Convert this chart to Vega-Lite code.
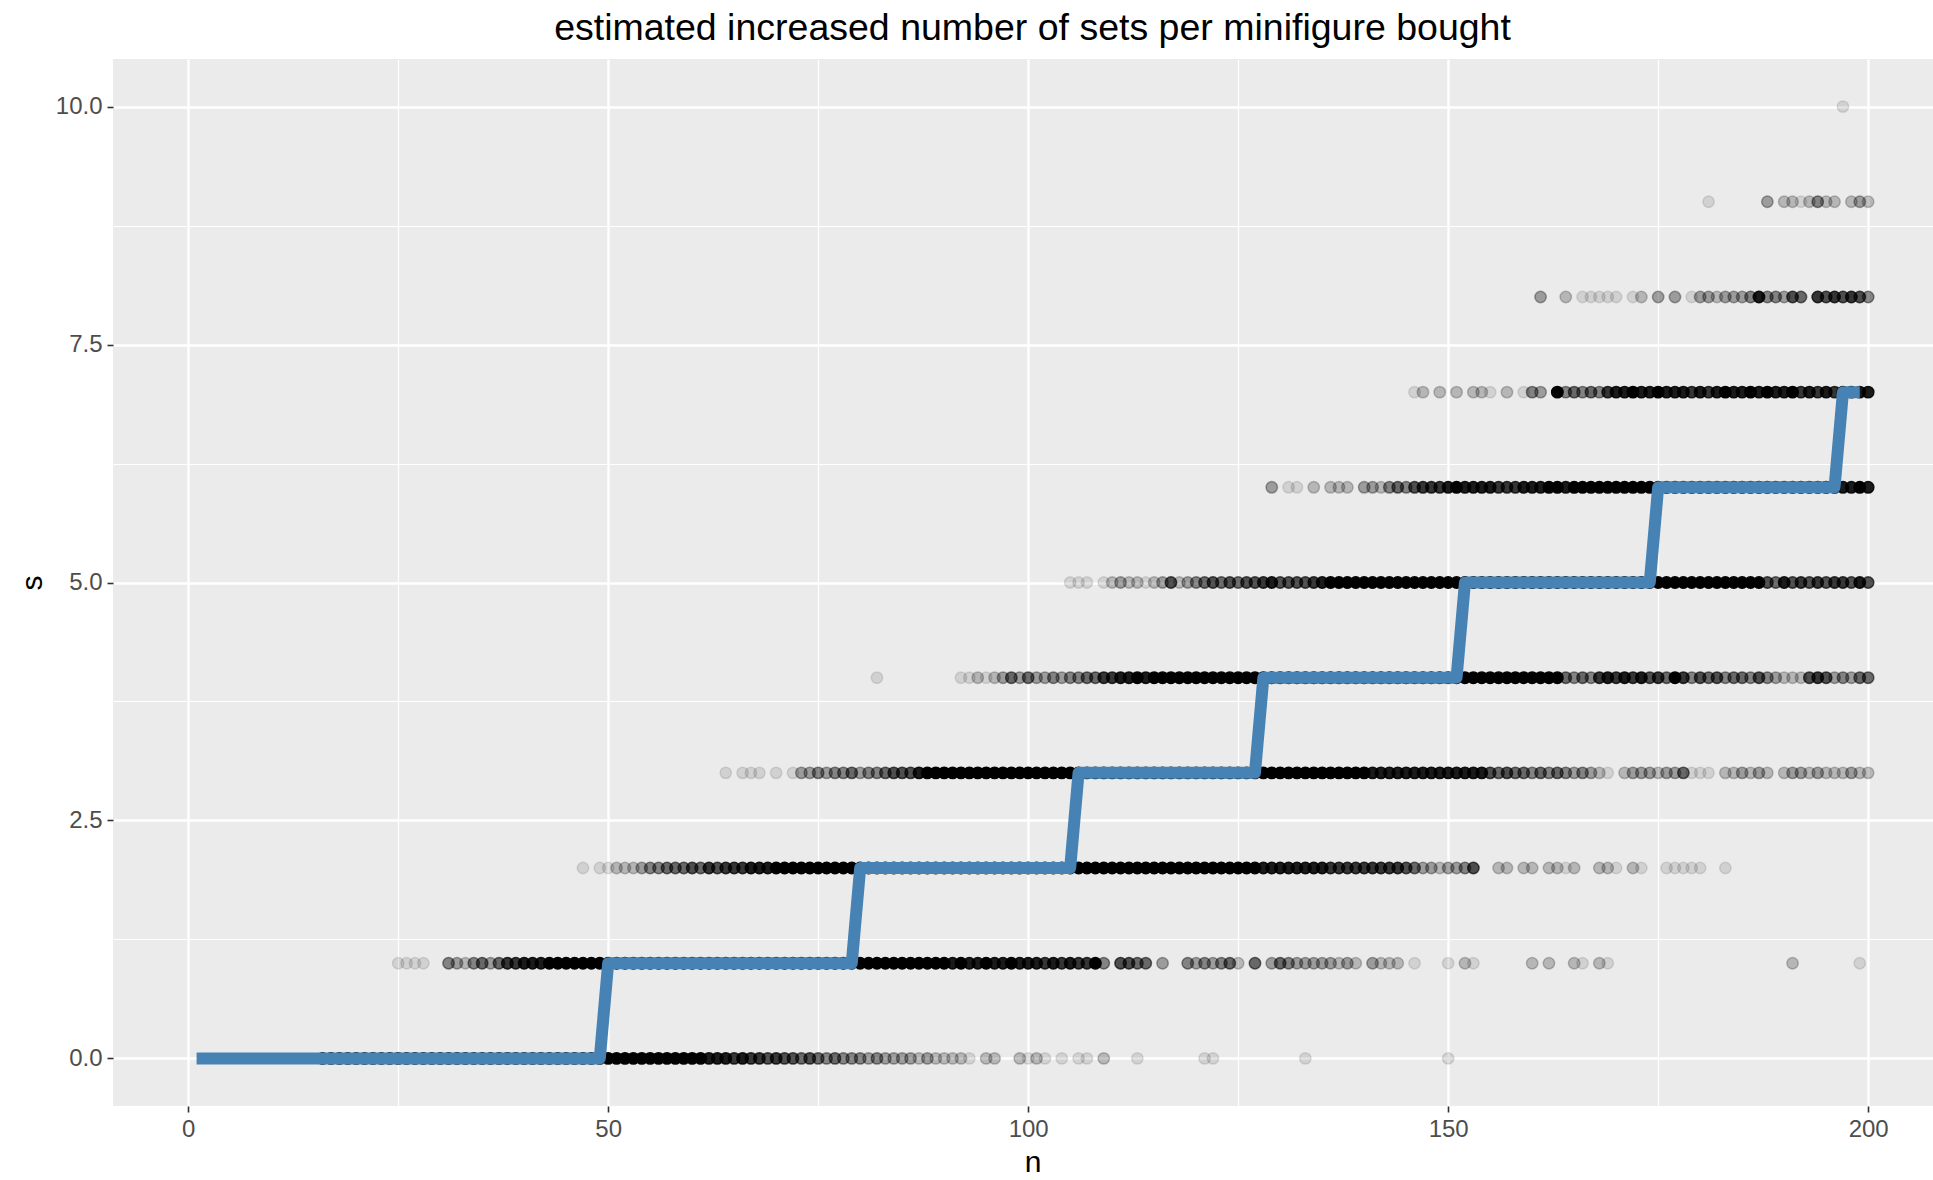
{"$schema":"https://vega.github.io/schema/vega-lite/v6.json","width":1820,"height":1047,"autosize":{"type":"none"},"padding":{"left":113,"top":59,"right":0,"bottom":74},"background":"white",
"config":{"view":{"fill":"#EBEBEB","stroke":null},"font":"Liberation Sans"},
"title":{"text":"estimated increased number of sets per minifigure bought","fontSize":37.5,"font":"Liberation Sans","fontWeight":"normal","color":"black","anchor":"middle","offset":12,"dx":9.5},
"datasets":{
"med":[{"n":1,"s":0},{"n":49,"s":0},{"n":50,"s":1},{"n":79,"s":1},{"n":80,"s":2},{"n":105,"s":2},{"n":106,"s":3},{"n":127,"s":3},{"n":128,"s":4},{"n":151,"s":4},{"n":152,"s":5},{"n":174,"s":5},{"n":175,"s":6},{"n":196,"s":6},{"n":197,"s":7},{"n":199,"s":7}],
"pts":[
{"n":16,"s":0,"k":10},{"n":17,"s":0,"k":10},{"n":18,"s":0,"k":10},{"n":19,"s":0,"k":10},{"n":20,"s":0,"k":10},{"n":21,"s":0,"k":10},{"n":22,"s":0,"k":10},{"n":23,"s":0,"k":10},{"n":24,"s":0,"k":10},{"n":25,"s":0,"k":10},{"n":26,"s":0,"k":10},{"n":27,"s":0,"k":10},{"n":28,"s":0,"k":10},{"n":29,"s":0,"k":10},{"n":30,"s":0,"k":10},{"n":31,"s":0,"k":10},{"n":32,"s":0,"k":10},{"n":33,"s":0,"k":10},{"n":34,"s":0,"k":10},{"n":35,"s":0,"k":10},{"n":36,"s":0,"k":10},{"n":37,"s":0,"k":10},{"n":38,"s":0,"k":10},{"n":39,"s":0,"k":10},{"n":40,"s":0,"k":10},{"n":41,"s":0,"k":10},{"n":42,"s":0,"k":10},{"n":43,"s":0,"k":10},{"n":44,"s":0,"k":10},{"n":45,"s":0,"k":10},{"n":46,"s":0,"k":10},{"n":47,"s":0,"k":10},{"n":48,"s":0,"k":10},{"n":49,"s":0,"k":10},{"n":50,"s":0,"k":10},{"n":51,"s":0,"k":10},{"n":52,"s":0,"k":10},{"n":53,"s":0,"k":10},{"n":54,"s":0,"k":10},{"n":55,"s":0,"k":10},{"n":56,"s":0,"k":10},{"n":57,"s":0,"k":10},{"n":58,"s":0,"k":10},{"n":59,"s":0,"k":10},{"n":60,"s":0,"k":10},{"n":61,"s":0,"k":10},
{"n":62,"s":0,"k":8},{"n":63,"s":0,"k":8},{"n":64,"s":0,"k":8},{"n":65,"s":0,"k":7},{"n":66,"s":0,"k":8},{"n":67,"s":0,"k":7},{"n":68,"s":0,"k":7},{"n":69,"s":0,"k":6},{"n":70,"s":0,"k":7},{"n":71,"s":0,"k":6},{"n":72,"s":0,"k":6},{"n":73,"s":0,"k":5},{"n":74,"s":0,"k":6},{"n":75,"s":0,"k":5},{"n":76,"s":0,"k":4},{"n":77,"s":0,"k":5},{"n":78,"s":0,"k":4},{"n":79,"s":0,"k":4},{"n":80,"s":0,"k":4},{"n":81,"s":0,"k":3},{"n":82,"s":0,"k":4},{"n":83,"s":0,"k":3},{"n":84,"s":0,"k":3},{"n":85,"s":0,"k":3},{"n":86,"s":0,"k":3},{"n":87,"s":0,"k":2},{"n":88,"s":0,"k":3},{"n":89,"s":0,"k":2},{"n":90,"s":0,"k":2},{"n":91,"s":0,"k":2},{"n":92,"s":0,"k":2},{"n":93,"s":0,"k":1},{"n":95,"s":0,"k":2},{"n":96,"s":0,"k":2},{"n":99,"s":0,"k":2},{"n":100,"s":0,"k":1},{"n":101,"s":0,"k":2},{"n":102,"s":0,"k":1},{"n":104,"s":0,"k":1},{"n":106,"s":0,"k":1},{"n":107,"s":0,"k":1},{"n":109,"s":0,"k":2},{"n":113,"s":0,"k":1},{"n":121,"s":0,"k":1},{"n":122,"s":0,"k":1},{"n":133,"s":0,"k":1},{"n":150,"s":0,"k":1},
{"n":25,"s":1,"k":1},{"n":26,"s":1,"k":1},{"n":27,"s":1,"k":1},{"n":28,"s":1,"k":1},{"n":31,"s":1,"k":4},{"n":32,"s":1,"k":3},{"n":33,"s":1,"k":2},{"n":34,"s":1,"k":4},{"n":35,"s":1,"k":5},{"n":36,"s":1,"k":3},{"n":37,"s":1,"k":5},{"n":38,"s":1,"k":7},{"n":39,"s":1,"k":7},{"n":40,"s":1,"k":8},{"n":41,"s":1,"k":8},{"n":42,"s":1,"k":8},
{"n":43,"s":1,"k":10},{"n":44,"s":1,"k":10},{"n":45,"s":1,"k":10},{"n":46,"s":1,"k":10},{"n":47,"s":1,"k":10},{"n":48,"s":1,"k":10},{"n":49,"s":1,"k":10},{"n":50,"s":1,"k":10},{"n":51,"s":1,"k":10},{"n":52,"s":1,"k":10},{"n":53,"s":1,"k":10},{"n":54,"s":1,"k":10},{"n":55,"s":1,"k":10},{"n":56,"s":1,"k":10},{"n":57,"s":1,"k":10},{"n":58,"s":1,"k":10},{"n":59,"s":1,"k":10},{"n":60,"s":1,"k":10},{"n":61,"s":1,"k":10},{"n":62,"s":1,"k":10},{"n":63,"s":1,"k":10},{"n":64,"s":1,"k":10},{"n":65,"s":1,"k":10},{"n":66,"s":1,"k":10},{"n":67,"s":1,"k":10},{"n":68,"s":1,"k":10},{"n":69,"s":1,"k":10},{"n":70,"s":1,"k":10},{"n":71,"s":1,"k":10},{"n":72,"s":1,"k":10},{"n":73,"s":1,"k":10},{"n":74,"s":1,"k":10},{"n":75,"s":1,"k":10},{"n":76,"s":1,"k":10},{"n":77,"s":1,"k":10},{"n":78,"s":1,"k":10},{"n":79,"s":1,"k":10},{"n":80,"s":1,"k":10},{"n":81,"s":1,"k":10},{"n":82,"s":1,"k":10},{"n":83,"s":1,"k":10},{"n":84,"s":1,"k":10},{"n":85,"s":1,"k":10},{"n":86,"s":1,"k":10},{"n":87,"s":1,"k":10},{"n":88,"s":1,"k":10},{"n":89,"s":1,"k":10},{"n":90,"s":1,"k":10},
{"n":91,"s":1,"k":8},{"n":92,"s":1,"k":9},{"n":93,"s":1,"k":8},{"n":94,"s":1,"k":8},{"n":95,"s":1,"k":9},{"n":96,"s":1,"k":8},{"n":97,"s":1,"k":8},{"n":98,"s":1,"k":9},{"n":99,"s":1,"k":8},{"n":100,"s":1,"k":8},{"n":101,"s":1,"k":8},{"n":102,"s":1,"k":7},{"n":103,"s":1,"k":8},{"n":104,"s":1,"k":7},{"n":105,"s":1,"k":8},{"n":106,"s":1,"k":7},{"n":107,"s":1,"k":7},{"n":108,"s":1,"k":9},{"n":109,"s":1,"k":4},{"n":111,"s":1,"k":6},{"n":112,"s":1,"k":6},{"n":113,"s":1,"k":5},{"n":114,"s":1,"k":5},{"n":116,"s":1,"k":3},{"n":119,"s":1,"k":4},{"n":120,"s":1,"k":3},{"n":121,"s":1,"k":4},{"n":122,"s":1,"k":3},{"n":123,"s":1,"k":4},{"n":124,"s":1,"k":5},{"n":125,"s":1,"k":2},{"n":127,"s":1,"k":5},{"n":129,"s":1,"k":3},{"n":130,"s":1,"k":5},{"n":131,"s":1,"k":4},{"n":132,"s":1,"k":3},{"n":133,"s":1,"k":3},{"n":134,"s":1,"k":3},{"n":135,"s":1,"k":3},{"n":136,"s":1,"k":3},{"n":137,"s":1,"k":2},{"n":138,"s":1,"k":3},{"n":139,"s":1,"k":2},{"n":141,"s":1,"k":3},{"n":142,"s":1,"k":2},{"n":143,"s":1,"k":2},{"n":144,"s":1,"k":2},{"n":146,"s":1,"k":1},{"n":150,"s":1,"k":1},{"n":152,"s":1,"k":2},{"n":153,"s":1,"k":1},{"n":160,"s":1,"k":2},{"n":162,"s":1,"k":2},{"n":165,"s":1,"k":2},{"n":166,"s":1,"k":1},{"n":168,"s":1,"k":2},{"n":169,"s":1,"k":1},{"n":191,"s":1,"k":2},{"n":199,"s":1,"k":1},
{"n":47,"s":2,"k":1},{"n":49,"s":2,"k":1},{"n":50,"s":2,"k":1},{"n":51,"s":2,"k":2},{"n":52,"s":2,"k":2},{"n":53,"s":2,"k":2},{"n":54,"s":2,"k":3},{"n":55,"s":2,"k":4},{"n":56,"s":2,"k":4},{"n":57,"s":2,"k":5},{"n":58,"s":2,"k":5},{"n":59,"s":2,"k":5},{"n":60,"s":2,"k":6},{"n":61,"s":2,"k":5},{"n":62,"s":2,"k":7},{"n":63,"s":2,"k":6},{"n":64,"s":2,"k":7},{"n":65,"s":2,"k":7},{"n":66,"s":2,"k":7},{"n":67,"s":2,"k":8},{"n":68,"s":2,"k":8},{"n":69,"s":2,"k":8},
{"n":70,"s":2,"k":10},{"n":71,"s":2,"k":10},{"n":72,"s":2,"k":10},{"n":73,"s":2,"k":10},{"n":74,"s":2,"k":10},{"n":75,"s":2,"k":10},{"n":76,"s":2,"k":10},{"n":77,"s":2,"k":10},{"n":78,"s":2,"k":10},{"n":79,"s":2,"k":10},{"n":80,"s":2,"k":10},{"n":81,"s":2,"k":10},{"n":82,"s":2,"k":10},{"n":83,"s":2,"k":10},{"n":84,"s":2,"k":10},{"n":85,"s":2,"k":10},{"n":86,"s":2,"k":10},{"n":87,"s":2,"k":10},{"n":88,"s":2,"k":10},{"n":89,"s":2,"k":10},{"n":90,"s":2,"k":10},{"n":91,"s":2,"k":10},{"n":92,"s":2,"k":10},{"n":93,"s":2,"k":10},{"n":94,"s":2,"k":10},{"n":95,"s":2,"k":10},{"n":96,"s":2,"k":10},{"n":97,"s":2,"k":10},{"n":98,"s":2,"k":10},{"n":99,"s":2,"k":10},{"n":100,"s":2,"k":10},{"n":101,"s":2,"k":10},{"n":102,"s":2,"k":10},{"n":103,"s":2,"k":10},{"n":104,"s":2,"k":10},{"n":105,"s":2,"k":10},{"n":106,"s":2,"k":10},{"n":107,"s":2,"k":10},{"n":108,"s":2,"k":10},{"n":109,"s":2,"k":10},{"n":110,"s":2,"k":10},{"n":111,"s":2,"k":10},{"n":112,"s":2,"k":10},{"n":113,"s":2,"k":10},{"n":114,"s":2,"k":10},{"n":115,"s":2,"k":10},{"n":116,"s":2,"k":10},{"n":117,"s":2,"k":10},{"n":118,"s":2,"k":10},{"n":119,"s":2,"k":10},{"n":120,"s":2,"k":10},
{"n":121,"s":2,"k":9},{"n":122,"s":2,"k":9},{"n":123,"s":2,"k":9},{"n":124,"s":2,"k":9},{"n":125,"s":2,"k":9},{"n":126,"s":2,"k":9},{"n":127,"s":2,"k":9},{"n":128,"s":2,"k":8},{"n":129,"s":2,"k":8},{"n":130,"s":2,"k":8},{"n":131,"s":2,"k":8},{"n":132,"s":2,"k":8},{"n":133,"s":2,"k":8},{"n":134,"s":2,"k":8},{"n":135,"s":2,"k":8},{"n":136,"s":2,"k":7},{"n":137,"s":2,"k":7},{"n":138,"s":2,"k":7},{"n":139,"s":2,"k":7},{"n":140,"s":2,"k":7},{"n":141,"s":2,"k":7},{"n":142,"s":2,"k":7},{"n":143,"s":2,"k":7},{"n":144,"s":2,"k":7},{"n":145,"s":2,"k":6},{"n":146,"s":2,"k":5},{"n":147,"s":2,"k":3},{"n":148,"s":2,"k":3},{"n":149,"s":2,"k":2},{"n":150,"s":2,"k":3},{"n":151,"s":2,"k":3},{"n":152,"s":2,"k":4},{"n":153,"s":2,"k":6},{"n":156,"s":2,"k":2},{"n":157,"s":2,"k":2},{"n":159,"s":2,"k":2},{"n":160,"s":2,"k":2},{"n":162,"s":2,"k":2},{"n":163,"s":2,"k":2},{"n":164,"s":2,"k":1},{"n":165,"s":2,"k":2},{"n":168,"s":2,"k":2},{"n":169,"s":2,"k":2},{"n":170,"s":2,"k":1},{"n":172,"s":2,"k":2},{"n":173,"s":2,"k":1},{"n":176,"s":2,"k":1},{"n":177,"s":2,"k":1},{"n":178,"s":2,"k":1},{"n":179,"s":2,"k":1},{"n":180,"s":2,"k":1},{"n":183,"s":2,"k":1},
{"n":64,"s":3,"k":1},{"n":66,"s":3,"k":1},{"n":67,"s":3,"k":1},{"n":68,"s":3,"k":1},{"n":70,"s":3,"k":1},{"n":72,"s":3,"k":1},{"n":73,"s":3,"k":3},{"n":74,"s":3,"k":3},{"n":75,"s":3,"k":4},{"n":76,"s":3,"k":3},{"n":77,"s":3,"k":4},{"n":78,"s":3,"k":4},{"n":79,"s":3,"k":5},{"n":80,"s":3,"k":3},{"n":81,"s":3,"k":4},{"n":82,"s":3,"k":4},{"n":83,"s":3,"k":5},{"n":84,"s":3,"k":6},{"n":85,"s":3,"k":6},{"n":86,"s":3,"k":6},{"n":87,"s":3,"k":8},
{"n":88,"s":3,"k":10},{"n":89,"s":3,"k":10},{"n":90,"s":3,"k":10},{"n":91,"s":3,"k":10},{"n":92,"s":3,"k":10},{"n":93,"s":3,"k":10},{"n":94,"s":3,"k":10},{"n":95,"s":3,"k":10},{"n":96,"s":3,"k":10},{"n":97,"s":3,"k":10},{"n":98,"s":3,"k":10},{"n":99,"s":3,"k":10},{"n":100,"s":3,"k":10},{"n":101,"s":3,"k":10},{"n":102,"s":3,"k":10},{"n":103,"s":3,"k":10},{"n":104,"s":3,"k":10},{"n":105,"s":3,"k":10},{"n":106,"s":3,"k":10},{"n":107,"s":3,"k":10},{"n":108,"s":3,"k":10},{"n":109,"s":3,"k":10},{"n":110,"s":3,"k":10},{"n":111,"s":3,"k":10},{"n":112,"s":3,"k":10},{"n":113,"s":3,"k":10},{"n":114,"s":3,"k":10},{"n":115,"s":3,"k":10},{"n":116,"s":3,"k":10},{"n":117,"s":3,"k":10},{"n":118,"s":3,"k":10},{"n":119,"s":3,"k":10},{"n":120,"s":3,"k":10},{"n":121,"s":3,"k":10},{"n":122,"s":3,"k":10},{"n":123,"s":3,"k":10},{"n":124,"s":3,"k":10},{"n":125,"s":3,"k":10},{"n":126,"s":3,"k":10},{"n":127,"s":3,"k":10},{"n":128,"s":3,"k":10},{"n":129,"s":3,"k":10},{"n":130,"s":3,"k":10},{"n":131,"s":3,"k":10},
{"n":132,"s":3,"k":9},{"n":133,"s":3,"k":9},{"n":134,"s":3,"k":9},{"n":135,"s":3,"k":9},{"n":136,"s":3,"k":9},{"n":137,"s":3,"k":9},{"n":138,"s":3,"k":9},{"n":139,"s":3,"k":9},{"n":140,"s":3,"k":9},{"n":141,"s":3,"k":8},{"n":142,"s":3,"k":8},{"n":143,"s":3,"k":8},{"n":144,"s":3,"k":8},{"n":145,"s":3,"k":8},{"n":146,"s":3,"k":8},{"n":147,"s":3,"k":8},{"n":148,"s":3,"k":8},{"n":149,"s":3,"k":8},{"n":150,"s":3,"k":8},{"n":151,"s":3,"k":8},{"n":152,"s":3,"k":8},{"n":153,"s":3,"k":8},{"n":154,"s":3,"k":8},{"n":155,"s":3,"k":6},{"n":156,"s":3,"k":5},{"n":157,"s":3,"k":6},{"n":158,"s":3,"k":5},{"n":159,"s":3,"k":5},{"n":160,"s":3,"k":4},{"n":161,"s":3,"k":5},{"n":162,"s":3,"k":4},{"n":163,"s":3,"k":5},{"n":164,"s":3,"k":4},{"n":165,"s":3,"k":3},{"n":166,"s":3,"k":4},{"n":167,"s":3,"k":3},{"n":168,"s":3,"k":2},{"n":169,"s":3,"k":1},{"n":171,"s":3,"k":2},{"n":172,"s":3,"k":3},{"n":173,"s":3,"k":3},{"n":174,"s":3,"k":3},{"n":175,"s":3,"k":2},{"n":176,"s":3,"k":3},{"n":177,"s":3,"k":3},{"n":178,"s":3,"k":5},{"n":179,"s":3,"k":1},{"n":180,"s":3,"k":1},{"n":181,"s":3,"k":1},{"n":183,"s":3,"k":2},{"n":184,"s":3,"k":2},{"n":185,"s":3,"k":3},{"n":186,"s":3,"k":2},{"n":187,"s":3,"k":3},{"n":188,"s":3,"k":2},{"n":190,"s":3,"k":2},{"n":191,"s":3,"k":3},{"n":192,"s":3,"k":3},{"n":193,"s":3,"k":2},{"n":194,"s":3,"k":3},{"n":195,"s":3,"k":2},{"n":196,"s":3,"k":2},{"n":197,"s":3,"k":2},{"n":198,"s":3,"k":3},{"n":199,"s":3,"k":2},{"n":200,"s":3,"k":2},
{"n":82,"s":4,"k":1},{"n":92,"s":4,"k":1},{"n":93,"s":4,"k":1},{"n":94,"s":4,"k":2},{"n":95,"s":4,"k":1},{"n":96,"s":4,"k":2},{"n":97,"s":4,"k":3},{"n":98,"s":4,"k":5},{"n":99,"s":4,"k":3},{"n":100,"s":4,"k":5},{"n":101,"s":4,"k":3},{"n":102,"s":4,"k":3},{"n":103,"s":4,"k":4},{"n":104,"s":4,"k":3},{"n":105,"s":4,"k":4},{"n":106,"s":4,"k":4},{"n":107,"s":4,"k":5},{"n":108,"s":4,"k":5},{"n":109,"s":4,"k":7},{"n":110,"s":4,"k":7},{"n":111,"s":4,"k":8},{"n":112,"s":4,"k":8},{"n":113,"s":4,"k":9},{"n":114,"s":4,"k":8},{"n":115,"s":4,"k":9},
{"n":116,"s":4,"k":10},{"n":117,"s":4,"k":10},{"n":118,"s":4,"k":10},{"n":119,"s":4,"k":10},{"n":120,"s":4,"k":10},{"n":121,"s":4,"k":10},{"n":122,"s":4,"k":10},{"n":123,"s":4,"k":10},{"n":124,"s":4,"k":10},{"n":125,"s":4,"k":10},{"n":126,"s":4,"k":10},{"n":127,"s":4,"k":10},{"n":128,"s":4,"k":10},{"n":129,"s":4,"k":10},{"n":130,"s":4,"k":10},{"n":131,"s":4,"k":10},{"n":132,"s":4,"k":10},{"n":133,"s":4,"k":10},{"n":134,"s":4,"k":10},{"n":135,"s":4,"k":10},{"n":136,"s":4,"k":10},{"n":137,"s":4,"k":10},{"n":138,"s":4,"k":10},{"n":139,"s":4,"k":10},{"n":140,"s":4,"k":10},{"n":141,"s":4,"k":10},{"n":142,"s":4,"k":10},{"n":143,"s":4,"k":10},{"n":144,"s":4,"k":10},{"n":145,"s":4,"k":10},{"n":146,"s":4,"k":10},{"n":147,"s":4,"k":10},{"n":148,"s":4,"k":10},{"n":149,"s":4,"k":10},{"n":150,"s":4,"k":10},{"n":151,"s":4,"k":10},{"n":152,"s":4,"k":10},{"n":153,"s":4,"k":10},{"n":154,"s":4,"k":10},{"n":155,"s":4,"k":10},{"n":156,"s":4,"k":10},{"n":157,"s":4,"k":10},{"n":158,"s":4,"k":10},{"n":159,"s":4,"k":10},{"n":160,"s":4,"k":10},{"n":161,"s":4,"k":10},{"n":162,"s":4,"k":10},{"n":163,"s":4,"k":10},
{"n":164,"s":4,"k":5},{"n":165,"s":4,"k":4},{"n":166,"s":4,"k":5},{"n":167,"s":4,"k":4},{"n":168,"s":4,"k":7},{"n":169,"s":4,"k":8},{"n":170,"s":4,"k":7},{"n":171,"s":4,"k":8},{"n":172,"s":4,"k":7},{"n":173,"s":4,"k":8},{"n":174,"s":4,"k":6},{"n":175,"s":4,"k":7},{"n":176,"s":4,"k":5},{"n":177,"s":4,"k":9},{"n":178,"s":4,"k":7},{"n":179,"s":4,"k":4},{"n":180,"s":4,"k":6},{"n":181,"s":4,"k":5},{"n":182,"s":4,"k":6},{"n":183,"s":4,"k":4},{"n":184,"s":4,"k":5},{"n":185,"s":4,"k":5},{"n":186,"s":4,"k":4},{"n":187,"s":4,"k":6},{"n":188,"s":4,"k":4},{"n":189,"s":4,"k":3},{"n":190,"s":4,"k":2},{"n":191,"s":4,"k":2},{"n":192,"s":4,"k":2},{"n":193,"s":4,"k":6},{"n":194,"s":4,"k":7},{"n":195,"s":4,"k":6},{"n":196,"s":4,"k":3},{"n":197,"s":4,"k":4},{"n":198,"s":4,"k":3},{"n":199,"s":4,"k":5},{"n":200,"s":4,"k":5},
{"n":105,"s":5,"k":1},{"n":106,"s":5,"k":1},{"n":107,"s":5,"k":1},{"n":109,"s":5,"k":1},{"n":110,"s":5,"k":2},{"n":111,"s":5,"k":3},{"n":112,"s":5,"k":2},{"n":113,"s":5,"k":2},{"n":114,"s":5,"k":1},{"n":115,"s":5,"k":2},{"n":116,"s":5,"k":3},{"n":117,"s":5,"k":6},{"n":118,"s":5,"k":2},{"n":119,"s":5,"k":3},{"n":120,"s":5,"k":4},{"n":121,"s":5,"k":5},{"n":122,"s":5,"k":6},{"n":123,"s":5,"k":5},{"n":124,"s":5,"k":6},{"n":125,"s":5,"k":5},{"n":126,"s":5,"k":6},{"n":127,"s":5,"k":6},{"n":128,"s":5,"k":7},{"n":129,"s":5,"k":8},{"n":130,"s":5,"k":6},{"n":131,"s":5,"k":6},{"n":132,"s":5,"k":6},{"n":133,"s":5,"k":6},{"n":134,"s":5,"k":7},{"n":135,"s":5,"k":8},{"n":136,"s":5,"k":9},
{"n":137,"s":5,"k":10},{"n":138,"s":5,"k":10},{"n":139,"s":5,"k":10},{"n":140,"s":5,"k":10},{"n":141,"s":5,"k":10},{"n":142,"s":5,"k":10},{"n":143,"s":5,"k":10},{"n":144,"s":5,"k":10},{"n":145,"s":5,"k":10},{"n":146,"s":5,"k":10},{"n":147,"s":5,"k":10},{"n":148,"s":5,"k":10},{"n":149,"s":5,"k":10},{"n":150,"s":5,"k":10},{"n":151,"s":5,"k":10},{"n":152,"s":5,"k":10},{"n":153,"s":5,"k":10},{"n":154,"s":5,"k":10},{"n":155,"s":5,"k":10},{"n":156,"s":5,"k":10},{"n":157,"s":5,"k":10},{"n":158,"s":5,"k":10},{"n":159,"s":5,"k":10},{"n":160,"s":5,"k":10},{"n":161,"s":5,"k":10},{"n":162,"s":5,"k":10},{"n":163,"s":5,"k":10},{"n":164,"s":5,"k":10},{"n":165,"s":5,"k":10},{"n":166,"s":5,"k":10},{"n":167,"s":5,"k":10},{"n":168,"s":5,"k":10},{"n":169,"s":5,"k":10},{"n":170,"s":5,"k":10},{"n":171,"s":5,"k":10},{"n":172,"s":5,"k":10},{"n":173,"s":5,"k":10},{"n":174,"s":5,"k":10},{"n":175,"s":5,"k":10},{"n":176,"s":5,"k":10},{"n":177,"s":5,"k":10},{"n":178,"s":5,"k":10},{"n":179,"s":5,"k":10},{"n":180,"s":5,"k":10},{"n":181,"s":5,"k":10},{"n":182,"s":5,"k":10},{"n":183,"s":5,"k":10},{"n":184,"s":5,"k":10},{"n":185,"s":5,"k":10},{"n":186,"s":5,"k":10},{"n":187,"s":5,"k":10},
{"n":188,"s":5,"k":6},{"n":189,"s":5,"k":5},{"n":190,"s":5,"k":8},{"n":191,"s":5,"k":6},{"n":192,"s":5,"k":7},{"n":193,"s":5,"k":6},{"n":194,"s":5,"k":7},{"n":195,"s":5,"k":6},{"n":196,"s":5,"k":7},{"n":197,"s":5,"k":7},{"n":198,"s":5,"k":6},{"n":199,"s":5,"k":8},{"n":200,"s":5,"k":6},
{"n":129,"s":6,"k":3},{"n":131,"s":6,"k":1},{"n":132,"s":6,"k":1},{"n":134,"s":6,"k":2},{"n":136,"s":6,"k":2},{"n":137,"s":6,"k":2},{"n":138,"s":6,"k":2},{"n":140,"s":6,"k":3},{"n":141,"s":6,"k":3},{"n":142,"s":6,"k":2},{"n":143,"s":6,"k":4},{"n":144,"s":6,"k":5},{"n":145,"s":6,"k":4},{"n":146,"s":6,"k":6},{"n":147,"s":6,"k":7},{"n":148,"s":6,"k":7},{"n":149,"s":6,"k":7},{"n":150,"s":6,"k":8},{"n":151,"s":6,"k":9},{"n":152,"s":6,"k":8},{"n":153,"s":6,"k":8},{"n":154,"s":6,"k":8},{"n":155,"s":6,"k":8},{"n":156,"s":6,"k":7},{"n":157,"s":6,"k":7},{"n":158,"s":6,"k":7},{"n":159,"s":6,"k":8},{"n":160,"s":6,"k":8},{"n":161,"s":6,"k":8},{"n":162,"s":6,"k":9},{"n":163,"s":6,"k":9},{"n":164,"s":6,"k":8},{"n":165,"s":6,"k":9},{"n":166,"s":6,"k":9},{"n":167,"s":6,"k":9},{"n":168,"s":6,"k":9},{"n":169,"s":6,"k":9},
{"n":170,"s":6,"k":10},{"n":171,"s":6,"k":10},{"n":172,"s":6,"k":10},{"n":173,"s":6,"k":10},{"n":174,"s":6,"k":10},{"n":175,"s":6,"k":10},{"n":176,"s":6,"k":10},{"n":177,"s":6,"k":10},{"n":178,"s":6,"k":10},{"n":179,"s":6,"k":10},{"n":180,"s":6,"k":10},{"n":181,"s":6,"k":10},{"n":182,"s":6,"k":10},{"n":183,"s":6,"k":10},{"n":184,"s":6,"k":10},{"n":185,"s":6,"k":10},{"n":186,"s":6,"k":10},{"n":187,"s":6,"k":10},{"n":188,"s":6,"k":10},{"n":189,"s":6,"k":10},{"n":190,"s":6,"k":10},{"n":191,"s":6,"k":10},{"n":192,"s":6,"k":10},{"n":193,"s":6,"k":10},{"n":194,"s":6,"k":10},{"n":195,"s":6,"k":10},{"n":196,"s":6,"k":10},{"n":197,"s":6,"k":8},{"n":198,"s":6,"k":8},{"n":199,"s":6,"k":9},{"n":200,"s":6,"k":8},
{"n":146,"s":7,"k":1},{"n":147,"s":7,"k":2},{"n":149,"s":7,"k":2},{"n":151,"s":7,"k":2},{"n":153,"s":7,"k":2},{"n":154,"s":7,"k":2},{"n":155,"s":7,"k":1},{"n":157,"s":7,"k":2},{"n":159,"s":7,"k":1},{"n":160,"s":7,"k":4},{"n":161,"s":7,"k":3},{"n":163,"s":7,"k":9},{"n":164,"s":7,"k":4},{"n":165,"s":7,"k":5},{"n":166,"s":7,"k":4},{"n":167,"s":7,"k":5},{"n":168,"s":7,"k":4},{"n":169,"s":7,"k":7},{"n":170,"s":7,"k":8},{"n":171,"s":7,"k":8},{"n":172,"s":7,"k":9},{"n":173,"s":7,"k":8},{"n":174,"s":7,"k":8},{"n":175,"s":7,"k":9},{"n":176,"s":7,"k":8},{"n":177,"s":7,"k":8},{"n":178,"s":7,"k":8},{"n":179,"s":7,"k":7},{"n":180,"s":7,"k":8},{"n":181,"s":7,"k":7},{"n":182,"s":7,"k":8},{"n":183,"s":7,"k":9},{"n":184,"s":7,"k":8},{"n":185,"s":7,"k":8},{"n":186,"s":7,"k":9},{"n":187,"s":7,"k":8},{"n":188,"s":7,"k":9},{"n":189,"s":7,"k":8},{"n":190,"s":7,"k":8},{"n":191,"s":7,"k":9},{"n":192,"s":7,"k":7},{"n":193,"s":7,"k":8},{"n":194,"s":7,"k":7},{"n":195,"s":7,"k":8},{"n":196,"s":7,"k":7},{"n":197,"s":7,"k":9},{"n":198,"s":7,"k":9},{"n":199,"s":7,"k":8},{"n":200,"s":7,"k":8},
{"n":161,"s":8,"k":3},{"n":164,"s":8,"k":2},{"n":166,"s":8,"k":1},{"n":167,"s":8,"k":1},{"n":168,"s":8,"k":1},{"n":169,"s":8,"k":1},{"n":170,"s":8,"k":1},{"n":172,"s":8,"k":1},{"n":173,"s":8,"k":2},{"n":175,"s":8,"k":3},{"n":177,"s":8,"k":3},{"n":179,"s":8,"k":1},{"n":180,"s":8,"k":3},{"n":181,"s":8,"k":3},{"n":182,"s":8,"k":2},{"n":183,"s":8,"k":3},{"n":184,"s":8,"k":3},{"n":185,"s":8,"k":3},{"n":186,"s":8,"k":4},{"n":187,"s":8,"k":8},{"n":188,"s":8,"k":4},{"n":189,"s":8,"k":4},{"n":190,"s":8,"k":3},{"n":191,"s":8,"k":6},{"n":192,"s":8,"k":5},{"n":194,"s":8,"k":7},{"n":195,"s":8,"k":6},{"n":196,"s":8,"k":7},{"n":197,"s":8,"k":6},{"n":198,"s":8,"k":7},{"n":199,"s":8,"k":6},{"n":200,"s":8,"k":4},
{"n":181,"s":9,"k":1},{"n":188,"s":9,"k":3},{"n":190,"s":9,"k":2},{"n":191,"s":9,"k":2},{"n":192,"s":9,"k":1},{"n":193,"s":9,"k":2},{"n":194,"s":9,"k":4},{"n":195,"s":9,"k":2},{"n":196,"s":9,"k":2},{"n":198,"s":9,"k":2},{"n":199,"s":9,"k":3},{"n":200,"s":9,"k":2},
{"n":197,"s":10,"k":1}
]},
"layer":[
{"data":{"name":"pts"},
"mark":{"type":"circle","size":130,"opacity":1,"color":"black","stroke":"black","strokeWidth":1.5},
"encoding":{
"x":{"field":"n","type":"quantitative","scale":{"domain":[-8.95,207.72],"nice":false,"zero":false},
"axis":{"title":"n","values":[0,25,50,75,100,125,150,175,200],"format":"d","labelExpr":"datum.value % 50 === 0 ? datum.label : ''","labelOverlap":false,"labelFlush":false,"domain":false,"grid":true,"gridColor":"white","gridWidth":{"condition":{"test":"datum.value % 50 === 0","value":2.4},"value":1.2},"tickColor":"#333333","tickSize":6,"tickWidth":1.6,"tickOpacity":{"condition":{"test":"datum.value % 50 === 0","value":1},"value":0},"labelColor":"#4D4D4D","labelFontSize":24,"labelFont":"Liberation Sans","labelPadding":5,"titleFont":"Liberation Sans","titleFontSize":30,"titleFontWeight":"normal","titleColor":"black","titlePadding":6,"titleX":919.5}},
"y":{"field":"s","type":"quantitative","scale":{"domain":[-0.5,10.5],"nice":false,"zero":false},
"axis":{"title":"s","values":[0,1.25,2.5,3.75,5,6.25,7.5,8.75,10],"format":".1f","labelExpr":"datum.value % 2.5 === 0 ? datum.label : ''","labelOverlap":false,"labelFlush":false,"domain":false,"grid":true,"gridColor":"white","gridWidth":{"condition":{"test":"datum.value % 2.5 === 0","value":2.4},"value":1.2},"tickColor":"#333333","tickSize":6,"tickWidth":1.6,"tickOpacity":{"condition":{"test":"datum.value % 2.5 === 0","value":1},"value":0},"labelColor":"#4D4D4D","labelFontSize":24,"labelFont":"Liberation Sans","labelPadding":5,"titleFont":"Liberation Sans","titleFontSize":30,"titleFontWeight":"normal","titleColor":"black","titlePadding":8}},
"fillOpacity":{"field":"k","type":"quantitative","scale":{"domain":[0,9],"range":[0,1],"clamp":true},"legend":null},
"strokeOpacity":{"field":"k","type":"quantitative","scale":{"domain":[0,9],"range":[0,1],"clamp":true},"legend":null}}},
{"data":{"name":"med"},
"mark":{"type":"line","color":"#4682B4","strokeWidth":12,"strokeCap":"butt","strokeJoin":"round"},
"encoding":{"x":{"field":"n","type":"quantitative"},"y":{"field":"s","type":"quantitative"}}}
]}
